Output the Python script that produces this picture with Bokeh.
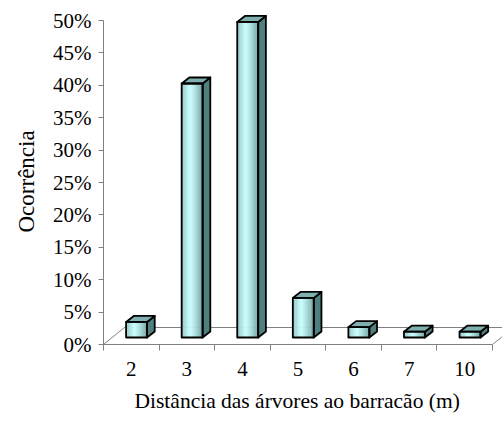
from bokeh.plotting import figure
from bokeh.models import Range1d, FixedTicker, Title
from bokeh.embed import file_html
from bokeh.resources import INLINE

# ---- data ----
categories = ["2", "3", "4", "5", "6", "7", "10"]
occurrence = [2.4, 39.2, 48.7, 6.1, 1.6, 0.9, 0.9]   # percent
y_ticks = [0, 5, 10, 15, 20, 25, 30, 35, 40, 45, 50]
y_tick_labels = ["0%", "5%", "10%", "15%", "20%", "25%", "30%", "35%", "40%", "45%", "50%"]
x_title = "Distância das árvores ao barracão (m)"
y_title = "Ocorrência"

# ---- style / 3D projection constants (pixels converted to data units) ----
PX_X = 390.0 / 7.0      # pixels per category
PX_Y = 324.0 / 50.0     # pixels per percent
FLOOR_DX = 21 / PX_X
FLOOR_DY = 17 / PX_Y
BAR_SHIFT = 5.3 / PX_X
BAR_W = 21 / PX_X
BAR_BASE = 7 / PX_Y
BAR_DX = 7.7 / PX_X
BAR_DY = 6 / PX_Y
FONT = "Liberation Serif"

n = len(categories)
p = figure(width=502, height=421,
           x_range=Range1d(0, 400 / PX_X), y_range=Range1d(0, 344 / PX_Y),
           min_border_left=102, min_border_right=0, min_border_top=0, min_border_bottom=77,
           output_backend="svg", toolbar_location=None)
p.outline_line_color = None
p.xgrid.visible = False
p.ygrid.visible = False
p.background_fill_color = "white"
p.border_fill_color = "white"

# ---- floor (3D base) ----
GRID = "#808080"
p.segment(x0=[0, n], y0=[0, 0], x1=[FLOOR_DX, n + FLOOR_DX], y1=[FLOOR_DY, FLOOR_DY],
          line_color=GRID, line_width=1)
p.segment(x0=[FLOOR_DX], y0=[FLOOR_DY], x1=[n + 1], y1=[FLOOR_DY], line_color=GRID, line_width=1)

# ---- bars ----
def mix(c1, c2, t):
    a = [int(c1[i:i + 2], 16) for i in (1, 3, 5)]
    b = [int(c2[i:i + 2], 16) for i in (1, 3, 5)]
    return "#%02x%02x%02x" % tuple(int(round(a[j] + (b[j] - a[j]) * t)) for j in range(3))

EDGE = "#6f9f9f"
CENTER = "#ccffff"
STRIPS = 14
sl, sr, sb, st, sc = [], [], [], [], []
side_xs, side_ys, top_xs, top_ys = [], [], [], []
fl_list, fr_list, tp_list = [], [], []
for i, v in enumerate(occurrence):
    fl = i + 0.5 + BAR_SHIFT - BAR_W / 2
    fr = fl + BAR_W
    base = BAR_BASE
    top = BAR_BASE + v
    for k in range(STRIPS):
        t = (k + 0.5) / STRIPS
        w = 1 - abs(t - 0.42) / 0.58
        sl.append(fl + k * BAR_W / STRIPS)
        sr.append(fl + (k + 1) * BAR_W / STRIPS)
        sb.append(base)
        st.append(top)
        sc.append(mix(EDGE, CENTER, max(0.0, w) ** 0.8))
    side_xs.append([fr, fr + BAR_DX, fr + BAR_DX, fr])
    side_ys.append([base, base + BAR_DY, top + BAR_DY, top])
    top_xs.append([fl, fl + BAR_DX, fr + BAR_DX, fr])
    top_ys.append([top, top + BAR_DY, top + BAR_DY, top])
    fl_list.append(fl); fr_list.append(fr); tp_list.append(top)

p.quad(left=sl, right=sr, bottom=sb, top=st, fill_color=sc, line_color=sc, line_width=0.6)
p.patches(xs=side_xs, ys=side_ys, fill_color="#4f7f7f", line_color="black", line_width=1.8,
          line_join="round")
p.patches(xs=top_xs, ys=top_ys, fill_color="#7fb0b0", line_color="black", line_width=1.8,
          line_join="round")
p.quad(left=fl_list, right=fr_list, bottom=[BAR_BASE] * n, top=tp_list,
       fill_color=None, line_color="black", line_width=1.8, line_join="round")

# ---- axes ----
AX = "#808080"
xa = p.xaxis[0]
xa.bounds = (0, n)
xa.ticker = FixedTicker(ticks=[i + 0.5 for i in range(n)], minor_ticks=list(range(n + 1)))
xa.major_label_overrides = {i + 0.5: c for i, c in enumerate(categories)}
xa.major_tick_out = 0
xa.major_tick_in = 0
xa.minor_tick_out = 6
xa.minor_tick_in = 0
xa.minor_tick_line_color = AX
xa.axis_line_color = AX
xa.major_label_standoff = 11
xa.major_label_text_font = FONT
xa.major_label_text_font_size = "21px"
xa.major_label_text_color = "black"

ya = p.yaxis[0]
ya.bounds = (0, 50)
ya.ticker = FixedTicker(ticks=y_ticks, minor_ticks=[])
ya.major_label_overrides = {t: l for t, l in zip(y_ticks, y_tick_labels)}
ya.major_tick_out = 5
ya.major_tick_in = 0
ya.major_tick_line_color = AX
ya.axis_line_color = AX
ya.major_label_standoff = 7
ya.major_label_text_font = FONT
ya.major_label_text_font_size = "21px"
ya.major_label_text_color = "black"

# ---- axis titles as side titles (left-aligned with an offset to sit like the original) ----
p.add_layout(Title(text=x_title, align="left", offset=31, standoff=17,
                   text_font=FONT, text_font_size="21.5px", text_font_style="normal",
                   text_color="black"), "below")
p.add_layout(Title(text=y_title, align="left", offset=112, standoff=23,
                   text_font=FONT, text_font_size="23px", text_font_style="normal",
                   text_color="black"), "left")

open("out.html", "w").write(file_html(p, INLINE))
